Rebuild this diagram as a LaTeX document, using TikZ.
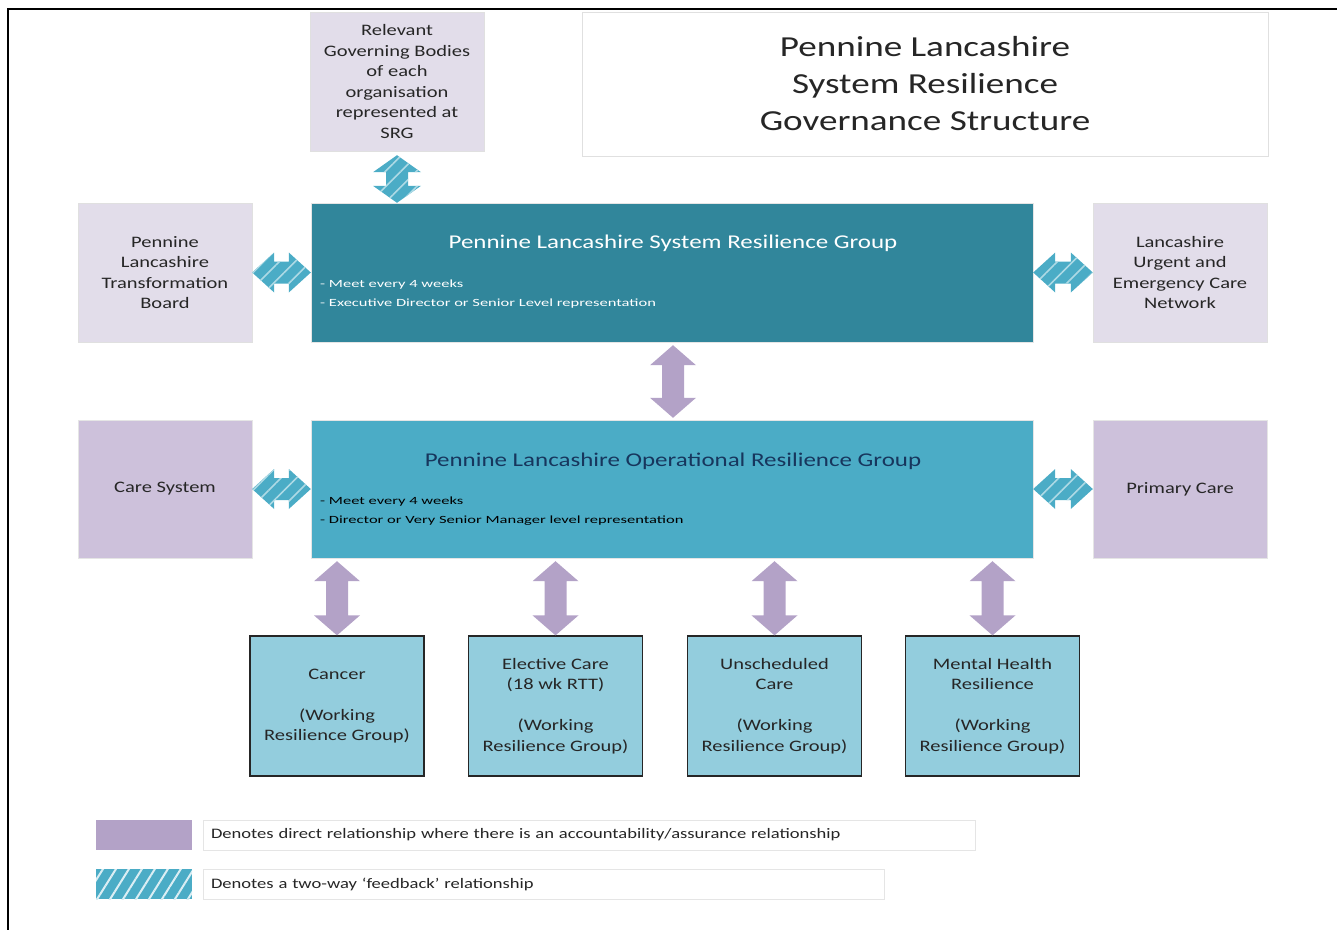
\documentclass[tikz,border=0pt]{standalone}
\usepackage{fontspec}
\setmainfont[FakeStretch=1.28]{Carlito}
\newfontfamily\notefont[FakeStretch=1.5]{Carlito}
\usetikzlibrary{calc,patterns.meta}

\definecolor{lav}{HTML}{E2DDEA}
\definecolor{lavdark}{HTML}{CDC1DB}
\definecolor{srgcol}{HTML}{31869B}
\definecolor{orgcol}{HTML}{4BACC6}
\definecolor{wgcol}{HTML}{93CDDD}
\definecolor{purparrow}{HTML}{B3A2C7}
\definecolor{cyanarrow}{HTML}{4BACC6}
\definecolor{boxtext}{HTML}{262626}
\definecolor{orgtitle}{HTML}{17365D}

% vertical double block arrow between two points
\newcommand\vblock[6]{%
  \path[#3] let \p1=(#1), \p2=(#2) in
    (\x1,\y1) -- (\x1+#4pt,\y1-#6pt) -- (\x1+#5pt,\y1-#6pt) -- (\x1+#5pt,\y2+#6pt)
    -- (\x1+#4pt,\y2+#6pt) -- (\x1,\y2) -- (\x1-#4pt,\y2+#6pt) -- (\x1-#5pt,\y2+#6pt)
    -- (\x1-#5pt,\y1-#6pt) -- (\x1-#4pt,\y1-#6pt) -- cycle;}
% horizontal double block arrow between two points
\newcommand\hblock[6]{%
  \path[#3] let \p1=(#1), \p2=(#2) in
    (\x1,\y1) -- (\x1+#6pt,\y1+#4pt) -- (\x1+#6pt,\y1+#5pt) -- (\x2-#6pt,\y1+#5pt)
    -- (\x2-#6pt,\y1+#4pt) -- (\x2,\y1) -- (\x2-#6pt,\y1-#4pt) -- (\x2-#6pt,\y1-#5pt)
    -- (\x1+#6pt,\y1-#5pt) -- (\x1+#6pt,\y1-#4pt) -- cycle;}

\tikzset{
  box/.style={minimum width=174pt, minimum height=139pt, inner sep=4pt, align=center,
    font=\fontsize{16}{20.6}\selectfont, text=boxtext},
  palebox/.style={box, fill=lav, draw=black!12},
  darkbox/.style={box, fill=lavdark, draw=black!10},
  wgbox/.style={box, minimum height=140pt, fill=wgcol, draw=black!85, line width=1.3pt},
  groupbox/.style={minimum width=722pt, minimum height=139pt, inner sep=0pt, draw=black!10},
  grouptitle/.style={font=\fontsize{19.5}{24}\selectfont, inner sep=0pt},
  groupnote/.style={font=\notefont\fontsize{11}{19}\selectfont, align=left, inner sep=0pt, anchor=west},
  feedback/.style={preaction={fill=cyanarrow},
    pattern={Lines[angle=45,distance=11pt,line width=1.6pt]}, pattern color=white!55!cyanarrow},
  feedbackkey/.style={preaction={fill=cyanarrow},
    pattern={Lines[angle=58,distance=11pt,line width=2pt]}, pattern color=white!80!cyanarrow},
  accountability/.style={fill=purparrow},
  swatch/.style={minimum width=96pt, minimum height=30pt, inner sep=0pt},
  legtext/.style={minimum height=30pt, inner xsep=8pt, inner ysep=0pt, align=left,
    fill=white, draw=black!10, font=\fontsize{14.5}{18}\selectfont, text=boxtext}
}

\begin{document}
\begin{tikzpicture}[x=1pt,y=-1pt]
\useasboundingbox (0,0) rectangle (1337,930);

% frame lines
\coordinate (frameTL) at (8,9);
\coordinate (frameTR) at (1337,9);
\coordinate (frameBL) at (8,930);
\draw[line width=2.5pt] (frameTR) -- (frameTL) -- (frameBL);

% title
\node[minimum width=686pt, minimum height=144pt, fill=white, draw=black!12, align=center,
      font=\fontsize{29}{37}\selectfont, text=boxtext] (title) at (925,84)
  {Pennine Lancashire\\System Resilience\\Governance Structure};

% top row
\node[palebox] (gov) at (397,81.5)
  {Relevant\\Governing Bodies\\of each\\organisation\\represented at\\SRG};
\node[palebox] (ptb) at (165,272.5) {Pennine\\Lancashire\\Transformation\\Board};
\node[palebox] (uec) at (1180,272.5) {Lancashire\\Urgent and\\Emergency Care\\Network};

\node[groupbox, fill=srgcol] (srg) at (672,272.5) {};
\node[grouptitle, text=white] (srgtitle) at (673,243) {Pennine Lancashire System Resilience Group};
\node[groupnote, text=white] (srgnote) at (320,294)
  {- Meet every 4 weeks\\- Executive Director or Senior Level representation};

% second row
\node[darkbox, minimum height=138pt] (care) at (165,489) {Care System};
\node[darkbox, minimum height=138pt] (prim) at (1180,489) {Primary Care};

\node[groupbox, minimum height=138pt, fill=orgcol] (org) at (672,489) {};
\node[grouptitle, text=orgtitle] (orgtitle) at (673,461) {Pennine Lancashire Operational Resilience Group};
\node[groupnote, text=black] (orgnote) at (320,511)
  {- Meet every 4 weeks\\- Director or Very Senior Manager level representation};

% working resilience groups
\node[wgbox] (cancer) at (337,706) {Cancer\\[20.6pt](Working\\Resilience Group)};
\node[wgbox] (elect) at (555.5,706) {Elective Care\\(18 wk RTT)\\[20.6pt](Working\\Resilience Group)};
\node[wgbox] (unsch) at (774.5,706) {Unscheduled\\Care\\[20.6pt](Working\\Resilience Group)};
\node[wgbox] (mental) at (992.5,706) {Mental Health\\Resilience\\[20.6pt](Working\\Resilience Group)};

% feedback links
\vblock{$(gov.south)+(0,4)$}{gov.south |- srg.north}{feedback}{24}{11}{17}
\hblock{ptb.east}{srg.west}{feedback}{20}{11}{22}
\hblock{srg.east}{uec.west}{feedback}{20}{11}{22}
\hblock{care.east}{org.west}{feedback}{20}{11}{22}
\hblock{org.east}{prim.west}{feedback}{20}{11}{22}

% accountability links
\vblock{$(srg.south)+(1,3)$}{$(srg.south |- org.north)+(1,-2)$}{accountability}{23}{11}{20}
\vblock{$(cancer.north |- org.south)+(0,3)$}{cancer.north}{accountability}{23}{11}{20}
\vblock{$(elect.north |- org.south)+(0,3)$}{elect.north}{accountability}{23}{11}{20}
\vblock{$(unsch.north |- org.south)+(0,3)$}{unsch.north}{accountability}{23}{11}{20}
\vblock{$(mental.north |- org.south)+(0,3)$}{mental.north}{accountability}{23}{11}{20}

% legend
\node[swatch, fill=purparrow] (key1) at (144,835) {};
\node[legtext, text width=756pt] (key1text) at (589,835)
  {Denotes direct relationship where there is an accountability/assurance relationship};
\node[swatch, feedbackkey] (key2) at (144,884) {};
\node[legtext, text width=665pt] (key2text) at (543.5,884)
  {Denotes a two-way ‘feedback’ relationship};
\end{tikzpicture}
\end{document}
